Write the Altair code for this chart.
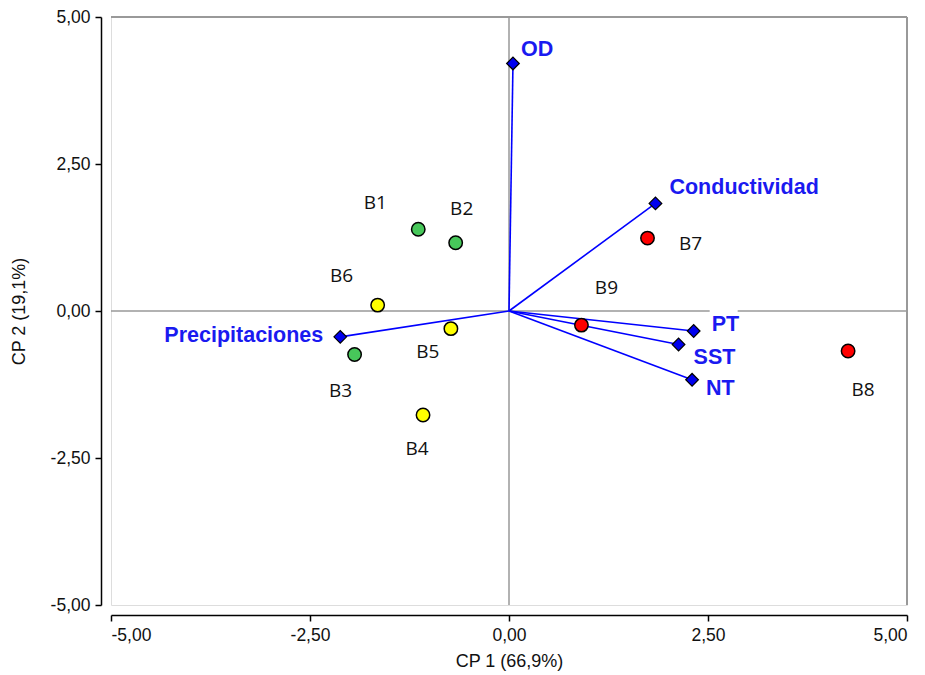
import altair as alt
import pandas as pd

# Sample scores on the first two principal components
sites = ["B1", "B2", "B3", "B4", "B5", "B6", "B7", "B8", "B9"]
cp1 = [-1.14, -0.67, -1.94, -1.08, -0.73, -1.65, 1.74, 4.26, 0.91]
cp2 = [1.39, 1.16, -0.74, -1.77, -0.30, 0.10, 1.24, -0.68, -0.24]
group = ["g", "g", "g", "y", "y", "y", "r", "r", "r"]

# Variable loadings (vectors drawn from the origin)
variables = ["OD", "Conductividad", "PT", "SST", "NT", "Precipitaciones"]
load1 = [0.05, 1.84, 2.32, 2.13, 2.30, -2.12]
load2 = [4.21, 1.83, -0.34, -0.57, -1.17, -0.44]

ticks = [-5, -2.5, 0, 2.5, 5]

W, H = 796, 588
PX_X = 10 / W   # data units per pixel
PX_Y = 10 / H

# label placement offsets in pixels (dx, dy; dy positive = down)
site_off = [(-43, -26), (6, -34), (-14, 36), (-6, 34), (-23, 23),
            (-36, -29), (43, 6), (15, 39), (25, -37)]
var_off = [(8, -13), (14, -15), (18, -6), (15, 13), (14, 9), (-17, -1)]

sdf = pd.DataFrame({"site": sites, "x": cp1, "y": cp2, "group": group})
sdf["lx"] = [x + o[0] * PX_X for x, o in zip(cp1, site_off)]
sdf["ly"] = [y - o[1] * PX_Y for y, o in zip(cp2, site_off)]

vdf = pd.DataFrame({"var": variables, "x": load1, "y": load2})
vdf["x0"] = 0.0
vdf["y0"] = 0.0
vdf["lx"] = [x + o[0] * PX_X for x, o in zip(load1, var_off)]
vdf["ly"] = [y - o[1] * PX_Y for y, o in zip(load2, var_off)]
vdf["side"] = ["r", "r", "r", "r", "r", "l"]

# white knock-out behind the "PT" label where it meets the zero line
pt_lx = vdf.loc[vdf["var"] == "PT", "lx"].iloc[0]
gap = pd.DataFrame({"x": [pt_lx - 2 * PX_X], "x2": [pt_lx + 26 * PX_X], "y": [0.0]})

label_expr = "(datum.value < 0 ? '-' : '') + replace(format(abs(datum.value), '.2f'), '.', ',')"

xs = alt.Scale(domain=[-5, 5], nice=False, zero=False)
ys = alt.Scale(domain=[-5, 5], nice=False, zero=False)

axis_common = dict(
    values=ticks, labelExpr=label_expr, grid=False, offset=10,
    domainColor="black", domainWidth=1.5, tickColor="black", tickWidth=1.5,
    tickSize=6, labelFont="Liberation Sans", labelFontSize=17.5,
    labelColor="#111", titleFont="Liberation Sans", titleFontSize=18,
    titleFontWeight="normal", titleColor="#111",
)

x_enc = alt.X("x:Q", scale=xs, title="CP 1 (66,9%)",
              axis=alt.Axis(labelPadding=5, titlePadding=9, **axis_common))
y_enc = alt.Y("y:Q", scale=ys, title="CP 2 (19,1%)",
              axis=alt.Axis(labelPadding=5, titlePadding=22, **axis_common))

grid_gray = "#999999"

# zero lines and top/right frame
zero_v = alt.Chart(pd.DataFrame({"x": [0]})).mark_rule(
    color=grid_gray, strokeWidth=1.5).encode(x=alt.X("x:Q", scale=xs))
zero_h = alt.Chart(pd.DataFrame({"y": [0]})).mark_rule(
    color=grid_gray, strokeWidth=1.5).encode(y=alt.Y("y:Q", scale=ys))
top = alt.Chart(pd.DataFrame({"y": [5]})).mark_rule(
    color=grid_gray, strokeWidth=2).encode(y=alt.Y("y:Q", scale=ys))
right = alt.Chart(pd.DataFrame({"x": [5]})).mark_rule(
    color=grid_gray, strokeWidth=2).encode(x=alt.X("x:Q", scale=xs))
knock = alt.Chart(gap).mark_rule(color="white", strokeWidth=4).encode(
    x=alt.X("x:Q", scale=xs), x2="x2:Q", y=alt.Y("y:Q", scale=ys))

base_v = alt.Chart(vdf)
vectors = base_v.mark_rule(color="#0000ff", strokeWidth=1.6).encode(
    x=alt.X("x0:Q", scale=xs), y=alt.Y("y0:Q", scale=ys),
    x2="x:Q", y2="y:Q")
diamonds = base_v.mark_point(shape="diamond", filled=True, fill="#0000ee",
                             stroke="black", strokeWidth=1.2, size=160,
                             opacity=1).encode(x=x_enc, y=y_enc)
vtext_style = dict(font="Liberation Sans", fontSize=21.5, fontWeight="bold",
                   color="#1a1af0", baseline="middle")
vlab_r = base_v.transform_filter("datum.side == 'r'").mark_text(
    align="left", **vtext_style).encode(
    x=alt.X("lx:Q", scale=xs), y=alt.Y("ly:Q", scale=ys), text="var:N")
vlab_l = base_v.transform_filter("datum.side == 'l'").mark_text(
    align="right", **vtext_style).encode(
    x=alt.X("lx:Q", scale=xs), y=alt.Y("ly:Q", scale=ys), text="var:N")

base_s = alt.Chart(sdf)
points = base_s.mark_circle(size=180, stroke="black", strokeWidth=1.5,
                            opacity=1).encode(
    x=x_enc, y=y_enc,
    color=alt.Color("group:N", legend=None,
                    scale=alt.Scale(domain=["g", "y", "r"],
                                    range=["#47c75a", "#ffff00", "#ff0000"])))
slabels = base_s.mark_text(font="Open Sans", fontSize=19, color="#111",
                           baseline="middle", align="center").encode(
    x=alt.X("lx:Q", scale=xs), y=alt.Y("ly:Q", scale=ys), text="site:N")

chart = alt.layer(
    zero_v, zero_h, knock, top, right, vectors, diamonds, points,
    slabels, vlab_r, vlab_l,
).properties(
    width=W, height=H,
    autosize=alt.AutoSizeParams(type="none"),
    padding={"left": 111, "top": 17, "right": 18, "bottom": 70},
).configure_view(stroke=None).configure(background="white")

chart.save("out.html", embed_options={"renderer": "svg", "actions": False})
